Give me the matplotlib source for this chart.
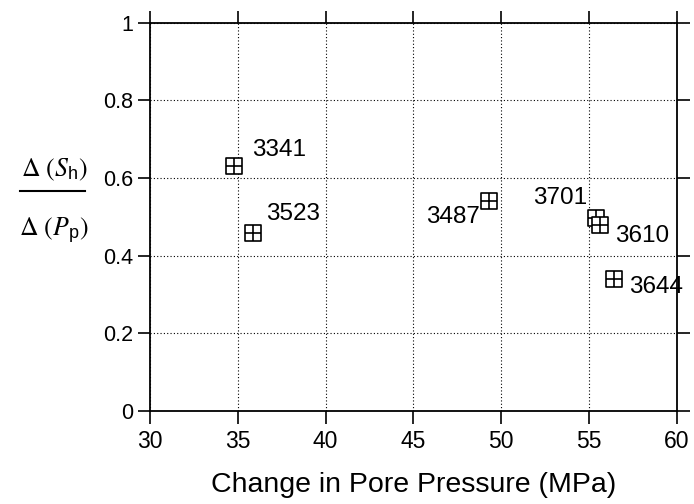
import numpy as np
import matplotlib
matplotlib.use('Agg')
import matplotlib.pyplot as plt
from matplotlib.path import Path
from matplotlib.lines import Line2D

plt.rcParams['font.family'] = ['Liberation Sans', 'DejaVu Sans']
plt.rcParams['mathtext.fontset'] = 'custom'
plt.rcParams['mathtext.rm'] = 'STIXGeneral'
plt.rcParams['mathtext.it'] = 'STIXGeneral:italic'
plt.rcParams['mathtext.bf'] = 'STIXGeneral:bold'
plt.rcParams['mathtext.sf'] = 'Liberation Sans'

# well ids and readings
wells = ['3341', '3523', '3487', '3701', '3610', '3644']
dpp = [34.8, 35.85, 49.3, 55.4, 55.65, 56.45]       # change in pore pressure (MPa)
ratio = [0.630, 0.458, 0.540, 0.497, 0.479, 0.341]  # d(Sh)/d(Pp)

# label offsets in pixels (dx, dy, ha)
offsets = {
    '3341': (18, 16, 'left'),
    '3523': (13, 19, 'left'),
    '3487': (-9, -16, 'right'),
    '3701': (-9, 20, 'right'),
    '3610': (15, -11, 'left'),
    '3644': (15, -8, 'left'),
}

# square with a cross in it
verts = [(-1, -1), (1, -1), (1, 1), (-1, 1), (-1, -1),
         (0, -1), (0, 1), (-1, 0), (1, 0)]
codes = [Path.MOVETO, Path.LINETO, Path.LINETO, Path.LINETO, Path.CLOSEPOLY,
         Path.MOVETO, Path.LINETO, Path.MOVETO, Path.LINETO]
box_plus = Path(verts, codes)

fig = plt.figure(figsize=(6.94, 5.04), dpi=100)
ax = fig.add_axes([0.2161, 0.1845, 0.7589, 0.7705])

ax.set_xlim(30, 60)
ax.set_ylim(0, 1)
ax.set_xticks([30, 35, 40, 45, 50, 55, 60])
ax.set_yticks([0, 0.2, 0.4, 0.6, 0.8, 1])
ax.set_yticklabels(['0', '0.2', '0.4', '0.6', '0.8', '1'])
ax.grid(True, color='black', linestyle=(0, (1, 2)), linewidth=0.8)
ax.set_axisbelow(True)

for s in ax.spines.values():
    s.set_linewidth(1.3)

ax.tick_params(axis='both', direction='out', length=9, width=1.2,
               top=True, right=True)
ax.tick_params(axis='x', labelsize=16.5, pad=5)
ax.tick_params(axis='y', labelsize=15.5, pad=3)

for i, w in enumerate(wells):
    ax.plot(dpp[i], ratio[i], marker=box_plus, markersize=11.5,
            markerfacecolor='white', markeredgecolor='black',
            markeredgewidth=1.2, linestyle='none', zorder=3 + i)
    dx, dy, ha = offsets[w]
    ax.annotate(w, (dpp[i], ratio[i]), xytext=(dx, dy),
                textcoords='offset pixels', ha=ha, va='center', fontsize=17.5)

ax.set_xlabel('Change in Pore Pressure (MPa)', fontsize=20.5, labelpad=13)

# stacked y label
fig.text(54 / 694, 1 - 170 / 504, r'$\Delta\ (S_{\mathsf{h}})$', ha='center', va='center', fontsize=18.5)
fig.text(54 / 694, 1 - 231 / 504, r'$\Delta\ (P_{\mathsf{p}})$', ha='center', va='center', fontsize=18.5)
fig.add_artist(Line2D([20 / 694, 85 / 694], [1 - 191 / 504, 1 - 191 / 504],
                      color='black', linewidth=1.5))

fig.savefig('out.png', dpi=100)
